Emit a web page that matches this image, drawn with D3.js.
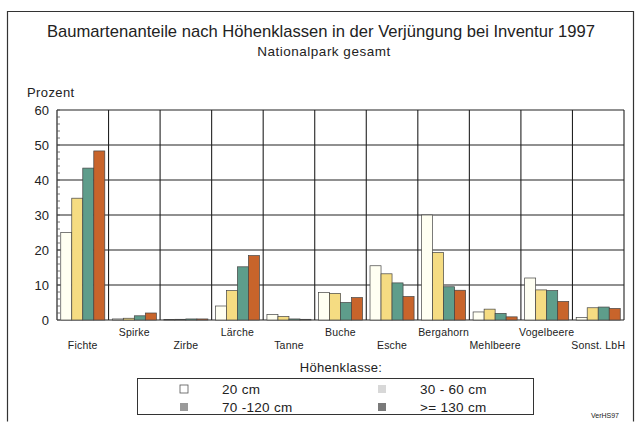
<!DOCTYPE html>
<html>
<head>
<meta charset="utf-8">
<script src="https://cdn.jsdelivr.net/npm/d3@7"></script>
<style>
	html, body { margin: 0; padding: 0; background: #fff; overflow: hidden; }
	svg { display: block; }
</style>
</head>
<body>
<svg width="641" height="424" font-family="Liberation Sans, Arial, sans-serif"></svg>
<script>

var categories = ['Fichte', 'Spirke', 'Zirbe', 'Lärche', 'Tanne', 'Buche', 'Esche',
	'Bergahorn', 'Mehlbeere', 'Vogelbeere', 'Sonst. LbH'];

var series = ['20 cm', '30 - 60 cm', '70 -120 cm', '>= 130 cm'];

var v20 = [25, 0.3, 0.1, 4, 1.6, 7.9, 15.5, 30, 2.3, 12, 0.7];
var v30_60 = [34.8, 0.5, 0.2, 8.4, 1.0, 7.6, 13.2, 19.3, 3.1, 8.6, 3.5];
var v70_120 = [43.4, 1.2, 0.3, 15.2, 0.3, 5, 10.6, 9.5, 1.9, 8.4, 3.7];
var v130 = [48.3, 2, 0.3, 18.4, 0.2, 6.4, 6.7, 8.5, 0.9, 5.3, 3.3];

var yTicks = [0, 10, 20, 30, 40, 50, 60];

var colors = ['#fffff2', '#f5dc82', '#5e9d8b', '#c8642b'];
var legendColors = ['#ffffff', '#d8d8d8', '#9a9a9a', '#7a7a7a'];

var seriesValues = [v20, v30_60, v70_120, v130];

var data = categories.map(function(c, i){
	return {
		cat: c,
		values: series.map(function(s, j){ return {key: s, value: seriesValues[j][i]}; })
	};
});

var svg = d3.select('svg');

var margin = {left: 57, right: 17, top: 110, bottom: 104};
var innerWidth = 641 - margin.left - margin.right;
var innerHeight = 424 - margin.top - margin.bottom;

// outer frame
svg.append('path')
	.attr('d', 'M7.5,421.5 V11.5 H633.5 V421.5')
	.attr('fill', 'none').attr('stroke', '#333').attr('stroke-width', 1.2);

svg.append('text')
	.attr('x', 321).attr('y', 37)
	.attr('text-anchor', 'middle')
	.attr('font-size', 16.6)
	.attr('fill', '#222')
	.text('Baumartenanteile nach Höhenklassen in der Verjüngung bei Inventur 1997');

svg.append('text')
	.attr('x', 324).attr('y', 56)
	.attr('text-anchor', 'middle')
	.attr('font-size', 13.5)
	.attr('letter-spacing', 0.5)
	.attr('fill', '#222')
	.text('Nationalpark gesamt');

svg.append('text')
	.attr('x', 27).attr('y', 97)
	.attr('font-size', 13)
	.attr('letter-spacing', 0.4)
	.attr('fill', '#222')
	.text('Prozent');

var g = svg.append('g')
	.attr('transform', 'translate(' + margin.left + ',' + margin.top + ')');

var x = d3.scaleBand().domain(categories).range([0, innerWidth]).padding(0);
var xs = d3.scaleBand().domain(series).range([0, x.bandwidth()])
	.paddingInner(0).paddingOuter(0.34);
var y = d3.scaleLinear().domain([0, 60]).range([innerHeight, 0]);

// horizontal grid
g.selectAll('.hgrid')
	.data(yTicks)
	.join('line')
	.attr('x1', 0).attr('x2', innerWidth)
	.attr('y1', function(d){ return y(d); })
	.attr('y2', function(d){ return y(d); })
	.attr('stroke', '#222').attr('stroke-width', 1.1);

// vertical separators
g.selectAll('.vgrid')
	.data(categories)
	.join('line')
	.attr('x1', function(d){ return x(d) + x.bandwidth(); })
	.attr('x2', function(d){ return x(d) + x.bandwidth(); })
	.attr('y1', 0).attr('y2', innerHeight)
	.attr('stroke', '#222').attr('stroke-width', 1.1);

// left axis line and minor ticks
g.append('line')
	.attr('x1', 0).attr('x2', 0).attr('y1', 0).attr('y2', innerHeight)
	.attr('stroke', '#222').attr('stroke-width', 1.2);

g.selectAll('.minor')
	.data(d3.range(0, 61, 2))
	.join('line')
	.attr('x1', 0).attr('x2', 3)
	.attr('y1', function(d){ return y(d); })
	.attr('y2', function(d){ return y(d); })
	.attr('stroke', '#555').attr('stroke-width', 0.8);

g.selectAll('.ylab')
	.data(yTicks)
	.join('text')
	.attr('x', -8)
	.attr('y', function(d){ return y(d) + 4.5; })
	.attr('text-anchor', 'end')
	.attr('font-size', 13)
	.attr('fill', '#222')
	.text(function(d){ return d; });

// bars
var groups = g.selectAll('.cat')
	.data(data)
	.join('g')
	.attr('transform', function(d){ return 'translate(' + x(d.cat) + ',0)'; });

groups.selectAll('rect')
	.data(function(d){ return d.values; })
	.join('rect')
	.attr('x', function(d){ return xs(d.key); })
	.attr('y', function(d){ return y(d.value); })
	.attr('width', xs.bandwidth())
	.attr('height', function(d){ return innerHeight - y(d.value); })
	.attr('fill', function(d, i){ return colors[i]; })
	.attr('stroke', '#444').attr('stroke-width', 0.7);

// category labels, staggered
g.selectAll('.xlab')
	.data(categories)
	.join('text')
	.attr('x', function(d){ return x(d) + x.bandwidth() / 2; })
	.attr('y', function(d, i){ return innerHeight + (i % 2 === 0 ? 29 : 16); })
	.attr('text-anchor', 'middle')
	.attr('font-size', 10.5)
	.attr('letter-spacing', 0.2)
	.attr('fill', '#222')
	.text(function(d){ return d; });

// legend
svg.append('text')
	.attr('x', 341).attr('y', 372)
	.attr('text-anchor', 'middle')
	.attr('font-size', 13)
	.attr('letter-spacing', 0.3)
	.attr('fill', '#222')
	.text('Höhenklasse:');

svg.append('rect')
	.attr('x', 137.5).attr('y', 378.5)
	.attr('width', 396).attr('height', 36)
	.attr('fill', 'none').attr('stroke', '#333').attr('stroke-width', 1);

var legendPos = [[180, 389], [378, 389], [180, 407], [378, 407]];

var items = svg.selectAll('.leg')
	.data(series)
	.join('g')
	.attr('transform', function(d, i){
		return 'translate(' + legendPos[i][0] + ',' + legendPos[i][1] + ')';
	});

items.append('rect')
	.attr('x', 0).attr('y', -4)
	.attr('width', 8).attr('height', 8)
	.attr('fill', function(d, i){ return legendColors[i]; })
	.attr('stroke', function(d, i){ return i === 0 ? '#555' : 'none'; })
	.attr('stroke-width', 0.8);

items.append('text')
	.attr('x', 42)
	.attr('y', 5)
	.attr('font-size', 13.5)
	.attr('letter-spacing', 0.3)
	.attr('fill', '#222')
	.text(function(d){ return d; });

svg.append('text')
	.attr('x', 619).attr('y', 418)
	.attr('text-anchor', 'end')
	.attr('font-size', 7)
	.attr('fill', '#222')
	.text('VerHS97');

</script>
</body>
</html>
